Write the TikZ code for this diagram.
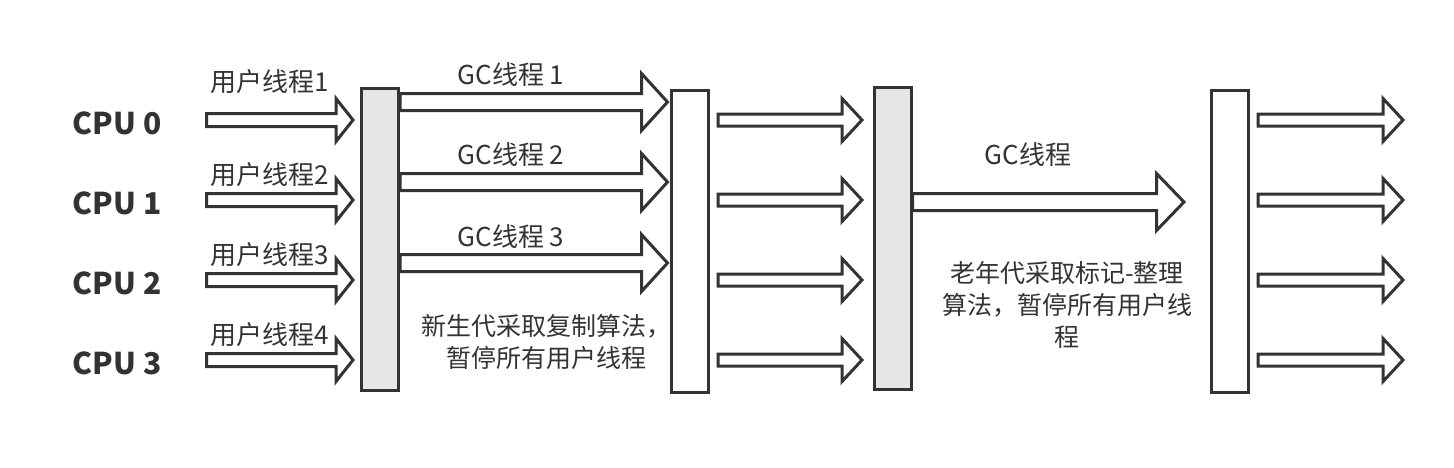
\documentclass[tikz,border=0pt]{standalone}
\usepackage{fontspec}
\setmainfont{Noto Sans CJK SC}
\usetikzlibrary{calc}
\definecolor{linegray}{RGB}{51,51,51}
\definecolor{textgray}{RGB}{51,51,51}
\definecolor{barfill}{RGB}{230,230,230}
\tikzset{
  gcbar/.style={draw=linegray,line width=3pt,fill=barfill,minimum width=37pt,
    minimum height=302pt,inner sep=0pt},
  runbar/.style={gcbar,fill=white},
  blockarr/.style={draw=linegray,line width=3pt,fill=white},
  cpulabel/.style={font=\fontsize{30}{34}\selectfont\bfseries,text=textgray},
  threadlabel/.style={font=\fontsize{26}{30}\selectfont,text=textgray},
  notelabel/.style={font=\fontsize{25}{32}\selectfont,text=textgray,align=center}
}
% block arrow: from, to, half body, half head, head length
\newcommand{\blockarrow}[5]{%
  \draw[blockarr] ($(#1)+(0,#3)$) -- ($(#2)+(-#5,#3)$) -- ($(#2)+(-#5,#4)$)
    -- (#2) -- ($(#2)+(-#5,-#4)$) -- ($(#2)+(-#5,-#3)$) -- ($(#1)+(0,-#3)$) -- cycle;}

\begin{document}
\begin{tikzpicture}[x=1pt,y=-1pt]
  \useasboundingbox (0,0) rectangle (1454,467);
  % pause bars
  \node[gcbar]  (box1) at (380,239.5) {};
  \node[runbar] (box2) at (690,241.5) {};
  \node[gcbar]  (box3) at (892.5,238.5) {};
  \node[runbar] (box4) at (1230,241.5) {};
  % user threads on each cpu
  \foreach \i/\y/\n/\ly in {0/120/1/82,1/200/2/175,2/280/3/255,3/360/4/335}{
    \node[cpulabel] (cpu\i) at (117,\y+3) {CPU \i};
    \node[threadlabel] (ut\i) at (270,\ly) {用户线程\n};
    \coordinate (us\i) at (206.5,\y);
    \coordinate (ue\i) at ($(box1.west |- us\i)+(-7,0)$);
    \blockarrow{us\i}{ue\i}{6.5}{21.5}{17}
    % threads after young gc
    \coordinate (ys\i) at ($(box2.east |- us\i)+(8,0)$);
    \coordinate (ye\i) at ($(box3.west |- us\i)+(-10.5,0)$);
    \blockarrow{ys\i}{ye\i}{6}{21.5}{20}
    % threads after old gc
    \coordinate (os\i) at ($(box4.east |- us\i)+(8,0)$);
    \coordinate (oe\i) at (1403,\y);
    \blockarrow{os\i}{oe\i}{6}{21.5}{20}
  }
  % young gc threads
  \foreach \n/\y/\ly in {1/102/75,2/182/155,3/263/237}{
    \node[threadlabel] (gt\n) at (511,\ly) {GC线程 \n};
    \coordinate (gs\n) at (box1.east |- 0,\y);
    \coordinate (ge\n) at ($(box2.west |- gs\n)+(-2.5,0)$);
    \blockarrow{gs\n}{ge\n}{8.5}{28.5}{26}
  }
  % old gc thread
  \node[threadlabel] (og) at (1028,155) {GC线程};
  \coordinate (ogs) at (box3.east |- 0,202);
  \coordinate (oge) at ($(box4.west |- ogs)+(-26,0)$);
  \blockarrow{ogs}{oge}{8.5}{28.5}{27.5}
  % notes
  \node[notelabel] (young) at (546,342) {新生代采取复制算法，\\暂停所有用户线程};
  \node[notelabel] (old) at (1067,305) {老年代采取标记-整理\\算法，暂停所有用户线\\程};
\end{tikzpicture}
\end{document}
